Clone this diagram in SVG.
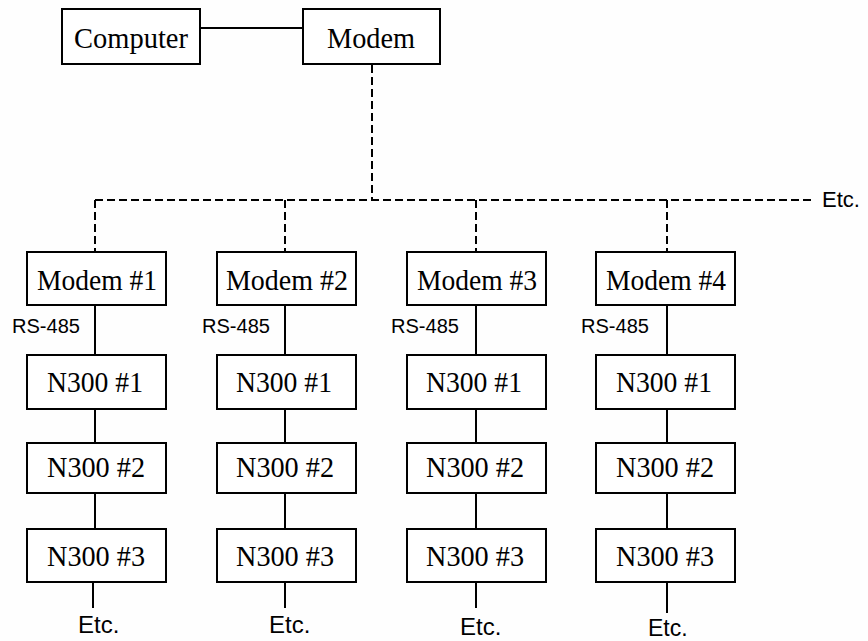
<svg xmlns="http://www.w3.org/2000/svg" width="868" height="641" viewBox="0 0 868 641">
<style>
.box{fill:#fff;stroke:#000;stroke-width:2}
.lbl{font-family:"Liberation Serif","Times New Roman",serif;font-size:29px;fill:#000;text-anchor:middle}
.sans{font-family:"Liberation Sans",Arial,sans-serif;fill:#000}
.ln{stroke:#000;stroke-width:2;fill:none}
.dash{stroke:#000;stroke-width:2;fill:none;stroke-dasharray:8 4}
</style>
<rect width="868" height="641" fill="#fefefe"/>
<g id="connectors">
<line class="ln" x1="200" y1="28" x2="303" y2="28"/>
<polyline class="dash" points="372,65 372,200"/>
<line class="dash" x1="95" y1="200" x2="814" y2="200"/>
<line class="dash" x1="95" y1="200" x2="95" y2="252"/>
<line class="dash" x1="285" y1="200" x2="285" y2="252"/>
<line class="dash" x1="476" y1="200" x2="476" y2="252"/>
<line class="dash" x1="667" y1="200" x2="667" y2="252"/>
<line class="ln" x1="95" y1="305" x2="95" y2="355"/>
<line class="ln" x1="95" y1="409" x2="95" y2="443"/>
<line class="ln" x1="95" y1="493" x2="95" y2="529"/>
<line class="ln" x1="93" y1="582" x2="93" y2="608"/>
<line class="ln" x1="285" y1="305" x2="285" y2="355"/>
<line class="ln" x1="285" y1="409" x2="285" y2="443"/>
<line class="ln" x1="285" y1="493" x2="285" y2="529"/>
<line class="ln" x1="285" y1="582" x2="285" y2="608"/>
<line class="ln" x1="476" y1="305" x2="476" y2="355"/>
<line class="ln" x1="476" y1="409" x2="476" y2="443"/>
<line class="ln" x1="476" y1="493" x2="476" y2="529"/>
<line class="ln" x1="476" y1="582" x2="476" y2="608"/>
<line class="ln" x1="667" y1="305" x2="667" y2="355"/>
<line class="ln" x1="667" y1="409" x2="667" y2="443"/>
<line class="ln" x1="667" y1="493" x2="667" y2="529"/>
<line class="ln" x1="667" y1="582" x2="667" y2="613"/>
</g>
<g id="computer"><rect class="box" x="62" y="9" width="138" height="55"/><text class="lbl" x="131" y="48" textLength="114" lengthAdjust="spacingAndGlyphs">Computer</text></g>
<g id="modem"><rect class="box" x="303" y="9" width="137" height="55"/><text class="lbl" x="371" y="48" textLength="88" lengthAdjust="spacingAndGlyphs">Modem</text></g>

<g id="modem1"><rect class="box" x="27" y="252" width="139" height="53"/><text class="lbl" x="97" y="290" textLength="120" lengthAdjust="spacingAndGlyphs">Modem #1</text></g>
<g id="modem2"><rect class="box" x="217" y="252" width="139" height="53"/><text class="lbl" x="287" y="290" textLength="122" lengthAdjust="spacingAndGlyphs">Modem #2</text></g>
<g id="modem3"><rect class="box" x="407" y="252" width="139" height="53"/><text class="lbl" x="477" y="290" textLength="120" lengthAdjust="spacingAndGlyphs">Modem #3</text></g>
<g id="modem4"><rect class="box" x="596" y="252" width="139" height="53"/><text class="lbl" x="666" y="290" textLength="120" lengthAdjust="spacingAndGlyphs">Modem #4</text></g>

<g id="rs1"><text class="sans" x="12" y="333" font-size="20" textLength="68" lengthAdjust="spacingAndGlyphs">RS-485</text></g>
<g id="rs2"><text class="sans" x="202" y="333" font-size="20" textLength="68" lengthAdjust="spacingAndGlyphs">RS-485</text></g>
<g id="rs3"><text class="sans" x="391" y="333" font-size="20" textLength="68" lengthAdjust="spacingAndGlyphs">RS-485</text></g>
<g id="rs4"><text class="sans" x="581" y="333" font-size="20" textLength="68" lengthAdjust="spacingAndGlyphs">RS-485</text></g>

<g id="c1n1"><rect class="box" x="27" y="355" width="139" height="54"/><text class="lbl" x="95" y="392" textLength="96" lengthAdjust="spacingAndGlyphs">N300 #1</text></g>
<g id="c1n2"><rect class="box" x="27" y="443" width="139" height="50"/><text class="lbl" x="96" y="477" textLength="98" lengthAdjust="spacingAndGlyphs">N300 #2</text></g>
<g id="c1n3"><rect class="box" x="27" y="529" width="139" height="53"/><text class="lbl" x="96" y="566" textLength="98" lengthAdjust="spacingAndGlyphs">N300 #3</text></g>

<g id="c2n1"><rect class="box" x="217" y="355" width="139" height="54"/><text class="lbl" x="284" y="392" textLength="96" lengthAdjust="spacingAndGlyphs">N300 #1</text></g>
<g id="c2n2"><rect class="box" x="217" y="443" width="139" height="50"/><text class="lbl" x="285" y="477" textLength="98" lengthAdjust="spacingAndGlyphs">N300 #2</text></g>
<g id="c2n3"><rect class="box" x="217" y="529" width="139" height="53"/><text class="lbl" x="285" y="566" textLength="98" lengthAdjust="spacingAndGlyphs">N300 #3</text></g>

<g id="c3n1"><rect class="box" x="407" y="355" width="139" height="54"/><text class="lbl" x="474" y="392" textLength="96" lengthAdjust="spacingAndGlyphs">N300 #1</text></g>
<g id="c3n2"><rect class="box" x="407" y="443" width="139" height="50"/><text class="lbl" x="475" y="477" textLength="98" lengthAdjust="spacingAndGlyphs">N300 #2</text></g>
<g id="c3n3"><rect class="box" x="407" y="529" width="139" height="53"/><text class="lbl" x="475" y="566" textLength="98" lengthAdjust="spacingAndGlyphs">N300 #3</text></g>

<g id="c4n1"><rect class="box" x="596" y="355" width="139" height="54"/><text class="lbl" x="664" y="392" textLength="96" lengthAdjust="spacingAndGlyphs">N300 #1</text></g>
<g id="c4n2"><rect class="box" x="596" y="443" width="139" height="50"/><text class="lbl" x="665" y="477" textLength="98" lengthAdjust="spacingAndGlyphs">N300 #2</text></g>
<g id="c4n3"><rect class="box" x="596" y="529" width="139" height="53"/><text class="lbl" x="665" y="566" textLength="98" lengthAdjust="spacingAndGlyphs">N300 #3</text></g>

<g id="etc-right"><text class="sans" x="822" y="207" font-size="22">Etc.</text></g>
<g id="etc1"><text class="sans" x="78" y="633" font-size="24">Etc.</text></g>
<g id="etc2"><text class="sans" x="269" y="633" font-size="24">Etc.</text></g>
<g id="etc3"><text class="sans" x="460" y="635" font-size="24">Etc.</text></g>
<g id="etc4"><text class="sans" x="648" y="636" font-size="23">Etc.</text></g>
</svg>
